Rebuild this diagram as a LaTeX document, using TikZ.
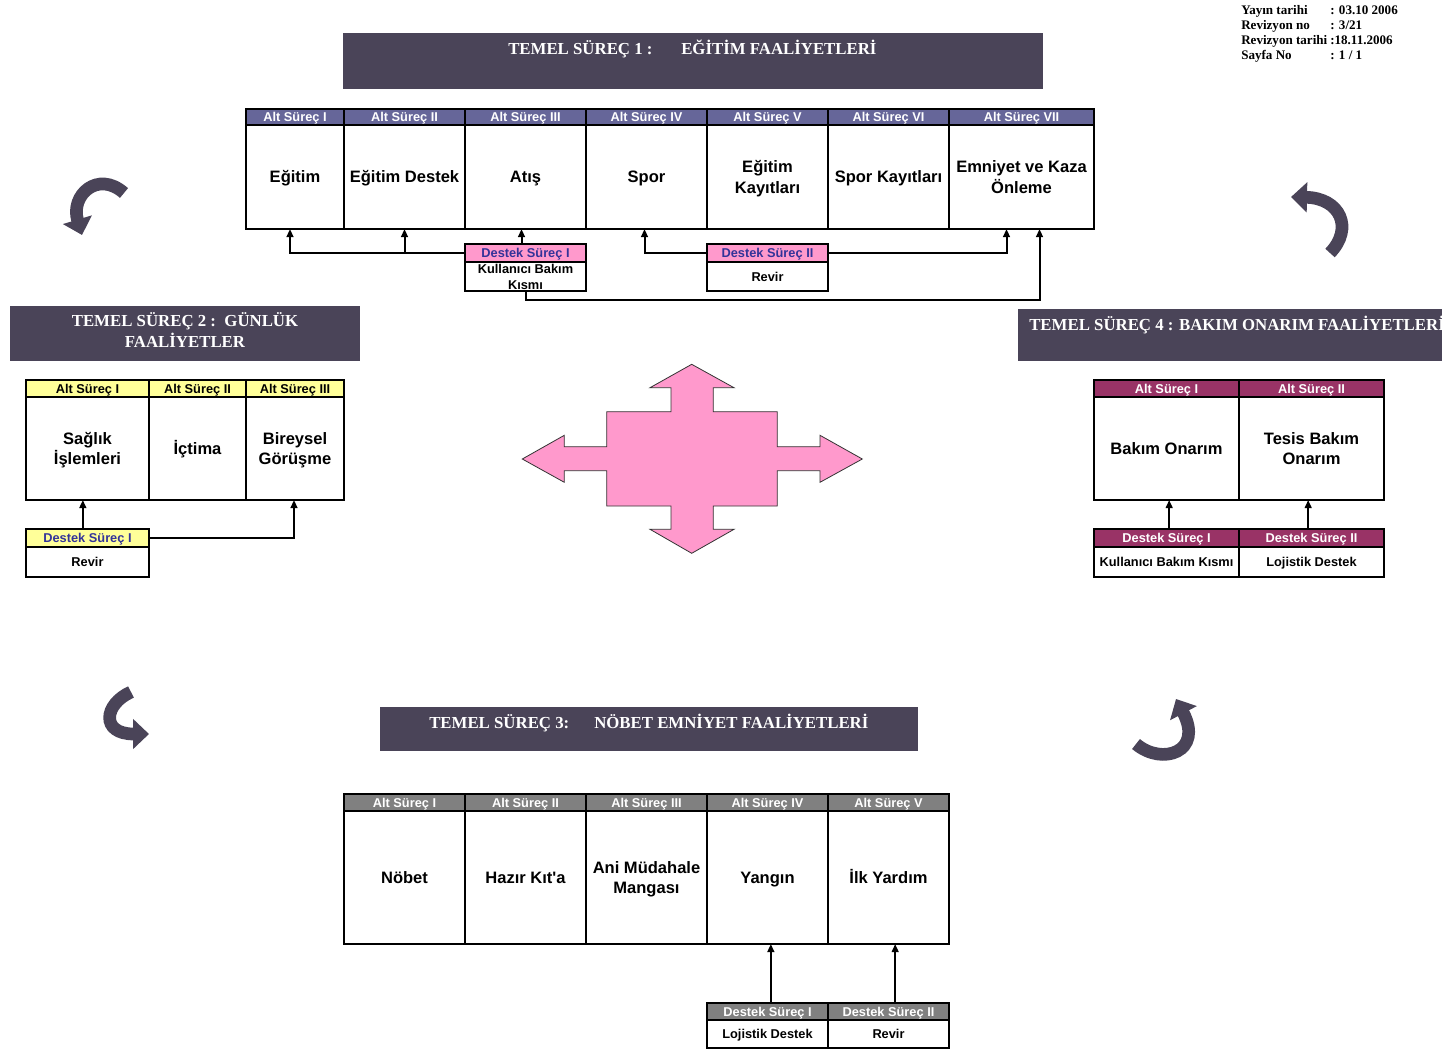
\documentclass[tikz,border=0pt]{standalone}
\usepackage{fontspec}
\setmainfont{Liberation Serif}
\setsansfont{Liberation Sans}
\usetikzlibrary{arrows.meta}

\definecolor{titlebg}{HTML}{4A4458}
\definecolor{hdrblue}{HTML}{666699}
\definecolor{hdryellow}{HTML}{FFFF99}
\definecolor{hdrmaroon}{HTML}{993366}
\definecolor{hdrgray}{HTML}{808080}
\definecolor{dspink}{HTML}{FF99CC}
\definecolor{dsblue}{HTML}{333399}

\newcommand\hdrfont{\sffamily\bfseries\fontsize{9.6}{11}\selectfont}
\newcommand\bodyfont{\sffamily\bfseries\fontsize{12.4}{15.6}\selectfont}
\newcommand\dsfont{\sffamily\bfseries\fontsize{9.6}{12}\selectfont}
\newcommand\titlefont{\rmfamily\bfseries\fontsize{12.6}{15.75}\selectfont}
\newcommand\metafont{\rmfamily\bfseries\fontsize{9.8}{11}\selectfont}

% one table cell: name, x, y (top left), width, height, style, text
\newcommand\tcell[7]{\node[#6,anchor=north west,minimum width=#4*0.75pt,minimum height=#5*0.75pt] (#1) at (#2,#3) {#7};}

\tikzset{
  cellbase/.style={draw=black, line width=1.5pt, inner sep=0pt, outer sep=0pt, align=center},
  capsmall/.style={text height=6.9pt, text depth=0pt},
  hdrP/.style={cellbase, capsmall, fill=hdrblue, text=white, font=\hdrfont},
  hdrY/.style={cellbase, capsmall, fill=hdryellow, text=black, font=\hdrfont},
  hdrM/.style={cellbase, capsmall, fill=hdrmaroon, text=white, font=\hdrfont},
  hdrG/.style={cellbase, capsmall, fill=hdrgray, text=white, font=\hdrfont},
  dsP/.style={cellbase, capsmall, fill=dspink, text=dsblue, font=\dsfont},
  dsY/.style={cellbase, capsmall, fill=hdryellow, text=dsblue, font=\dsfont},
  bodyc/.style={cellbase, fill=white, font=\bodyfont, text height=8.9pt, text depth=0pt},
  bodytwo/.style={cellbase, fill=white, font=\bodyfont, text height=24.5pt, text depth=0pt},
  dsbody/.style={cellbase, capsmall, fill=white, font=\dsfont},
  dsbodytwo/.style={cellbase, fill=white, font=\dsfont},
  titlebox/.style={fill=titlebg, draw=none, inner sep=0pt, anchor=north west},
  titletext/.style={text=white, font=\titlefont, inner sep=0pt, align=center},
  metatext/.style={font=\metafont, inner sep=0pt, anchor=base west},
  conn/.style={line width=1.5pt, -{Triangle[length=6pt,width=5pt]}},
  cycarrow/.style={draw=titlebg, line width=9.5pt, -{Triangle[length=12pt,width=22pt]}},
}

\begin{document}
\begin{tikzpicture}[x=0.75pt, y=-0.75pt]
\useasboundingbox (0,0) rectangle (1442,1050);
\clip (0,0) rectangle (1442,1050);

% ---------- document info ----------
\node[metatext] (m1) at (1241,14) {Yayın tarihi};
\node[metatext] (m1v) at (1330,14) {: 03.10 2006};
\node[metatext] (m2) at (1241,29) {Revizyon no};
\node[metatext] (m2v) at (1330,29) {: 3/21};
\node[metatext] (m3) at (1241,44) {Revizyon tarihi};
\node[metatext] (m3v) at (1330,44) {:18.11.2006};
\node[metatext] (m4) at (1241,59) {Sayfa No};
\node[metatext] (m4v) at (1330,59) {: 1 / 1};

% ---------- process titles ----------
\node[titlebox, minimum width=700*0.75pt, minimum height=56*0.75pt] (ts1) at (343,33) {};
\node[titletext, anchor=base west] (ts1a) at (508,54) {TEMEL SÜREÇ 1 :};
\node[titletext, anchor=base west] (ts1b) at (681,54) {EĞİTİM FAALİYETLERİ};

\node[titlebox, minimum width=350*0.75pt, minimum height=55*0.75pt] (ts2) at (10,306) {};
\node[titletext, anchor=base] (ts2a) at (185,326) {TEMEL SÜREÇ 2 :\ \ GÜNLÜK};
\node[titletext, anchor=base] (ts2b) at (185,347) {FAALİYETLER};

\node[titlebox, minimum width=538*0.75pt, minimum height=44*0.75pt] (ts3) at (380,707) {};
\node[titletext, anchor=base west] (ts3a) at (429,728) {TEMEL SÜREÇ 3:};
\node[titletext, anchor=base west] (ts3b) at (594,728) {NÖBET EMNİYET FAALİYETLERİ};

\node[titlebox, minimum width=440*0.75pt, minimum height=52*0.75pt] (ts4) at (1018,309) {};
\node[titletext, anchor=base west] (ts4a) at (1029,330) {TEMEL SÜREÇ 4 : BAKIM ONARIM FAALİYETLERİ};

% ---------- process 1 table ----------
\tcell{t1h}{246}{109}{98}{16}{hdrP}{Alt Süreç I}
\tcell{t2h}{344}{109}{121}{16}{hdrP}{Alt Süreç II}
\tcell{t3h}{465}{109}{121}{16}{hdrP}{Alt Süreç III}
\tcell{t4h}{586}{109}{121}{16}{hdrP}{Alt Süreç IV}
\tcell{t5h}{707}{109}{121}{16}{hdrP}{Alt Süreç V}
\tcell{t6h}{828}{109}{121}{16}{hdrP}{Alt Süreç VI}
\tcell{t7h}{949}{109}{145}{16}{hdrP}{Alt Süreç VII}
\tcell{t1b}{246}{125}{98}{104}{bodyc}{Eğitim}
\tcell{t2b}{344}{125}{121}{104}{bodyc}{Eğitim Destek}
\tcell{t3b}{465}{125}{121}{104}{bodyc}{Atış}
\tcell{t4b}{586}{125}{121}{104}{bodyc}{Spor}
\tcell{t5b}{707}{125}{121}{104}{bodytwo}{Eğitim\\Kayıtları}
\tcell{t6b}{828}{125}{121}{104}{bodyc}{Spor Kayıtları}
\tcell{t7b}{949}{125}{145}{104}{bodytwo}{Emniyet ve Kaza\\Önleme}

\tcell{d1h}{465}{244}{121}{18}{dsP}{Destek Süreç I}
\tcell{d1b}{465}{262}{121}{29}{dsbodytwo}{\fontsize{9.6}{10.5}\selectfont Kullanıcı Bakım\\Kısmı}
\tcell{d2h}{707}{244}{121}{18}{dsP}{Destek Süreç II}
\tcell{d2b}{707}{262}{121}{29}{dsbody}{Revir}

\draw[conn] (d1h.west) -| ([xshift=-3.75pt]t1b.south);
\draw[conn] (d1h.west -| t2b.south) -- (t2b.south);
\draw[conn] ([xshift=-3pt]d1h.north) -- ([xshift=-3pt]d1h.north |- t3b.south);
\draw[conn] (d1b.south) -- ++(0,9) -| ([xshift=13.5pt]t7b.south);
\draw[conn] (d2h.west) -| ([xshift=-1.5pt]t4b.south);
\draw[conn] (d2h.east) -| ([xshift=-11.25pt]t7b.south);

% ---------- process 2 table ----------
\tcell{l1h}{26}{380}{123}{17}{hdrY}{Alt Süreç I}
\tcell{l2h}{149}{380}{97}{17}{hdrY}{Alt Süreç II}
\tcell{l3h}{246}{380}{98}{17}{hdrY}{Alt Süreç III}
\tcell{l1b}{26}{397}{123}{103}{bodytwo}{Sağlık\\İşlemleri}
\tcell{l2b}{149}{397}{97}{103}{bodyc}{İçtima}
\tcell{l3b}{246}{397}{98}{103}{bodytwo}{Bireysel\\Görüşme}
\tcell{s1h}{26}{529}{123}{18}{dsY}{Destek Süreç I}
\tcell{s1b}{26}{547}{123}{30}{dsbody}{Revir}

\draw[conn] ([xshift=-3.5pt]s1h.north) -- ([xshift=-3.5pt]s1h.north |- l1b.south);
\draw[conn] (s1h.east) -| ([xshift=-0.75pt]l3b.south);

% ---------- process 4 table ----------
\tcell{r1h}{1094}{380}{145}{17}{hdrM}{Alt Süreç I}
\tcell{r2h}{1239}{380}{145}{17}{hdrM}{Alt Süreç II}
\tcell{r1b}{1094}{397}{145}{103}{bodyc}{Bakım Onarım}
\tcell{r2b}{1239}{397}{145}{103}{bodytwo}{Tesis Bakım\\Onarım}
\tcell{q1h}{1094}{529}{145}{18}{hdrM}{Destek Süreç I}
\tcell{q2h}{1239}{529}{145}{18}{hdrM}{Destek Süreç II}
\tcell{q1b}{1094}{547}{145}{30}{dsbody}{Kullanıcı Bakım Kısmı}
\tcell{q2b}{1239}{547}{145}{30}{dsbody}{Lojistik Destek}

\draw[conn] ([xshift=2pt]q1h.north) -- ([xshift=2pt]q1h.north |- r1b.south);
\draw[conn] ([xshift=-2.5pt]q2h.north) -- ([xshift=-2.5pt]q2h.north |- r2b.south);

% ---------- process 3 table ----------
\tcell{b1h}{344}{794}{121}{17}{hdrG}{Alt Süreç I}
\tcell{b2h}{465}{794}{121}{17}{hdrG}{Alt Süreç II}
\tcell{b3h}{586}{794}{121}{17}{hdrG}{Alt Süreç III}
\tcell{b4h}{707}{794}{121}{17}{hdrG}{Alt Süreç IV}
\tcell{b5h}{828}{794}{121}{17}{hdrG}{Alt Süreç V}
\tcell{b1b}{344}{811}{121}{133}{bodyc}{Nöbet}
\tcell{b2b}{465}{811}{121}{133}{bodyc}{Hazır Kıt\textquotesingle a}
\tcell{b3b}{586}{811}{121}{133}{bodytwo}{Ani Müdahale\\Mangası}
\tcell{b4b}{707}{811}{121}{133}{bodyc}{Yangın}
\tcell{b5b}{828}{811}{121}{133}{bodyc}{İlk Yardım}
\tcell{p1h}{707}{1003}{121}{17}{hdrG}{Destek Süreç I}
\tcell{p2h}{828}{1003}{121}{17}{hdrG}{Destek Süreç II}
\tcell{p1b}{707}{1020}{121}{28}{dsbody}{Lojistik Destek}
\tcell{p2b}{828}{1020}{121}{28}{dsbody}{Revir}

\draw[conn] ([xshift=2.5pt]p1h.north) -- ([xshift=2.5pt]p1h.north |- b4b.south);
\draw[conn] ([xshift=5pt]p2h.north) -- ([xshift=5pt]p2h.north |- b5b.south);

% ---------- central four-way arrow ----------
\draw[fill=dspink, draw=black!80, line width=0.6pt, line join=miter]
  (691.7,364.3) -- (734,387.7) -- (713.3,387.7) -- (713.3,411.7) -- (777.3,411.7)
  -- (777.3,446.7) -- (820,446.7) -- (820,435.3) -- (862.3,459) -- (820,482.3)
  -- (820,470.7) -- (777.3,470.7) -- (777.3,506) -- (713.3,506) -- (713.3,529.3)
  -- (734,529.3) -- (691.7,553.3) -- (650,529.3) -- (671,529.3) -- (671,506)
  -- (606.7,506) -- (606.7,470.7) -- (564.3,470.7) -- (564.3,482.3) -- (522.3,459)
  -- (564.3,435.3) -- (564.3,446.7) -- (606.7,446.7) -- (606.7,411.7) -- (671,411.7)
  -- (671,387.7) -- (650,387.7) -- cycle;

% ---------- cycle arrows between the processes ----------
\draw[cycarrow] (124,193) .. controls (98,170) and (70,195) .. (82,235);
\draw[cycarrow] (1330,253) .. controls (1354,228) and (1340,198) .. (1291,197);
\draw[cycarrow] (131,692) .. controls (104,704) and (100,734) .. (149,734);
\draw[cycarrow] (1136,744) .. controls (1162,766) and (1204,752) .. (1176,699);
\end{tikzpicture}
\end{document}
